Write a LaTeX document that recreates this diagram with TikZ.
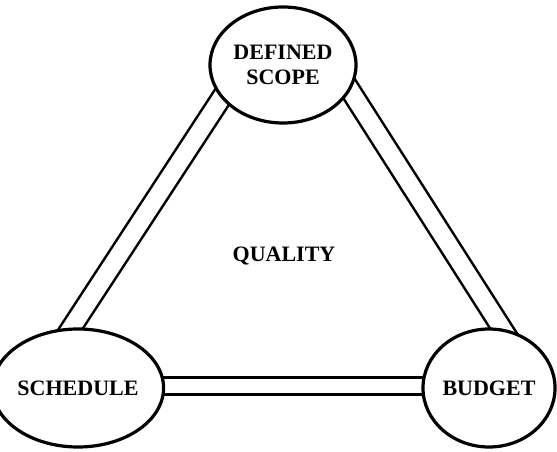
\documentclass[tikz,border=0pt]{standalone}
\usepackage{fontspec}
\setmainfont{Liberation Serif}
\usepackage{tikz}
\usetikzlibrary{shapes.geometric,backgrounds}

\begin{document}
\begin{tikzpicture}[x=0.75pt,y=0.75pt,yscale=-1,xscale=1,
	corner/.style={draw,ellipse,line width=2.4pt,fill=white,inner sep=0pt,align=center,font=\fontsize{16.5}{18.5}\selectfont\bfseries},
	rail/.style={line width=1.9pt,double=white,double distance=13pt}]
	\useasboundingbox (0,0) rectangle (557,452);
	
	%Shape: Ellipse [id:scope] 
	\node [corner,minimum width=109.5pt,minimum height=87pt] (scope) at (283,65) {DEFINED\\SCOPE};
	%Shape: Ellipse [id:schedule] 
	\node [corner,minimum width=105.75pt,minimum height=88.5pt] (schedule) at (78,388) {SCHEDULE};
	%Shape: Ellipse [id:budget] 
	\node [corner,minimum width=99pt,minimum height=88.5pt] (budget) at (489,388) {BUDGET};
	
	% Text Node
	\node [inner sep=0.75pt,font=\fontsize{16.5}{18.5}\selectfont\bfseries] (quality) at (284,256) {QUALITY};
	
	\begin{scope}[on background layer]
	%Double Lines [id:left] 
	\draw [rail] ([xshift=-30pt]scope.center) -- ([xshift=-34.5pt]schedule.center) ;
	%Double Lines [id:right] 
	\draw [rail] ([xshift=38.25pt]scope.center) -- ([xshift=38.25pt]budget.center) ;
	%Double Lines [id:bottom] 
	\draw [rail,double distance=10.5pt] ([yshift=-1.5pt]schedule.center) -- ([yshift=-1.5pt]budget.center) ;
	\end{scope}
	
\end{tikzpicture}
\end{document}
